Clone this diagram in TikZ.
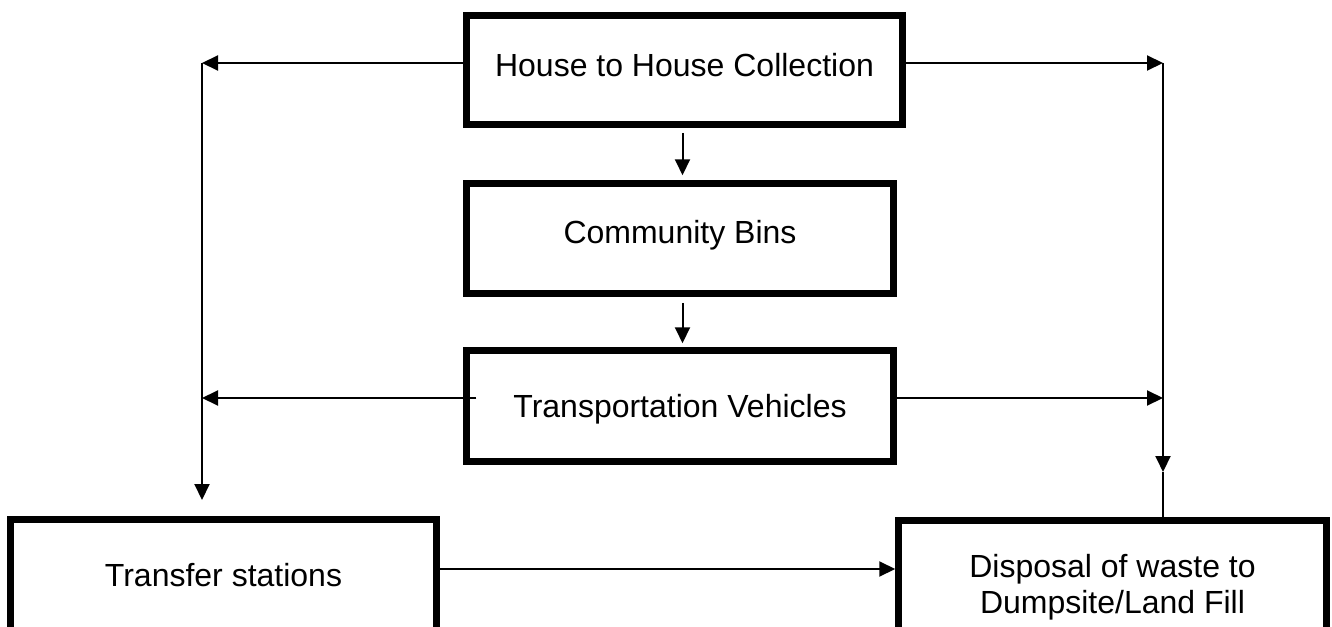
\documentclass[tikz,border=0pt]{standalone}
\usepackage{fontspec}
\setmainfont{Liberation Sans}
\usetikzlibrary{arrows.meta}
\begin{document}
\begin{tikzpicture}[x=1pt,y=-1pt,
  box/.style={draw=black, line width=6.5pt, inner sep=0pt, align=center,
    font=\fontsize{32}{36}\selectfont, fill=white},
  thin/.style={draw=black, line width=2pt},
  arr/.style={thin, -{Triangle[length=16pt,width=15pt]}}]
\useasboundingbox (0,0) rectangle (1332,626);
\fill[white] (0,0) rectangle (1332,626);
\clip (0,0) rectangle (1332,626);

\node[box, minimum width=436pt, minimum height=109pt, text depth=10pt] (top) at (684.5,70) {House to House Collection};
\node[box, minimum width=427pt, minimum height=110pt, text depth=13pt] (comm) at (680,238.5) {Community Bins};
\node[box, minimum width=427pt, minimum height=111pt, text depth=0pt] (trans) at (680,406) {Transportation Vehicles};
\node[box, minimum width=426pt, minimum height=111pt] (transfer) at (223.5,575) {Transfer stations};
\node[box, minimum width=428pt, minimum height=134.5pt] (disp) at (1112.5,587.5) {Disposal of waste to\\Dumpsite/Land Fill};

\coordinate (L1) at (202,63);
\coordinate (R1) at (1163,63);
\coordinate (L2) at (202,398);
\coordinate (R2) at (1163,398);
\coordinate (Ld) at (202,500);
\coordinate (Rm) at (1163,472);
\coordinate (ax) at (682.5,0);

\draw[arr] (top.west |- L1) -- (L1);
\draw[arr] (top.east |- R1) -- (R1);
\draw[arr] (L1) -- (Ld);
\draw[arr] (R1) -- (Rm);
\draw[thin] (Rm) -- (disp.north -| Rm);
\draw[arr] ([xshift=13pt]trans.west |- L2) -- (L2);
\draw[arr] (trans.east |- R2) -- (R2);
\draw[arr] ([yshift=-5pt]top.south -| ax) -- ([yshift=5pt]comm.north -| ax);
\draw[arr] ([yshift=-6pt]comm.south -| ax) -- ([yshift=4pt]trans.north -| ax);
\draw[arr] ([yshift=6pt]transfer.east) -- ([yshift=6pt]transfer.east -| disp.west);
\end{tikzpicture}
\end{document}
